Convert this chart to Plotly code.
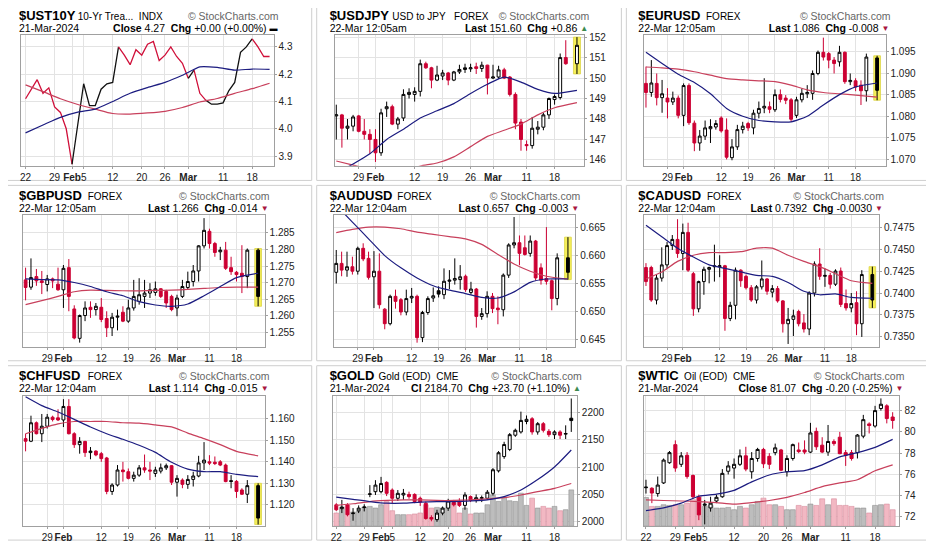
import pandas as pd
import plotly.graph_objects as go

W, H = 934, 543
PAGE = 8          # the page body margin; layout below is written in screen pixels
FONT = "Liberation Sans, Arial, sans-serif"
CANDLE_RED = "#cc0033"
LINE_RED = "#d0103a"
MA_BLUE = "#1c1c80"
MA_RED = "#c8405c"
GRID = "#e3e3e3"
FRAME = "#a0a0a0"

# trading calendars: forex prints every weekday, the US feeds skip Presidents' Day
fx_days = pd.bdate_range("2024-01-23", "2024-03-22")
fx_dates = fx_days.drop(pd.Timestamp("2024-03-21"))   # no bar printed for 21-Mar
us_days = pd.bdate_range("2024-01-22", "2024-03-21").drop(pd.Timestamp("2024-02-19"))
us_dates = us_days

fx_tick_dates = ["2024-01-29", "2024-02-01", "2024-02-12", "2024-02-19", "2024-02-26",
                 "2024-03-01", "2024-03-11", "2024-03-18"]
fx_tick_text = ["29", "<b>Feb</b>", "12", "19", "26", "<b>Mar</b>", "11", "18"]
us_tick_dates = ["2024-01-22", "2024-01-29", "2024-02-01", "2024-02-05", "2024-02-12",
                 "2024-02-20", "2024-02-26", "2024-03-01", "2024-03-11", "2024-03-18"]
us_tick_text = ["22", "29", "<b>Feb</b>", "5", "12", "20", "26", "<b>Mar</b>", "11", "18"]

# ---- $UST10Y (line chart) ----
ust10y_close = [4.11, 4.145, 4.18, 4.13, 4.15, 4.08, 4.06, 4.0, 3.87, 4.02,
                4.165, 4.085, 4.085, 4.145, 4.165, 4.17, 4.30, 4.27, 4.235, 4.29,
                4.27, 4.31, 4.32, 4.25, 4.27, 4.30, 4.265, 4.24, 4.185, 4.215,
                4.13, 4.105, 4.09, 4.09, 4.095, 4.14, 4.17, 4.28, 4.30, 4.33,
                4.30, 4.265, 4.265]
ust10y_ma20 = [3.985, 4.014, 4.042, 4.061, 4.072, 4.10, 4.13, 4.151, 4.17, 4.196, 4.227, 4.225, 4.215, 4.219, 4.218]
ust10y_ma50 = [4.161, 4.136, 4.11, 4.089, 4.072, 4.056, 4.054, 4.058, 4.064, 4.078, 4.098, 4.111, 4.13, 4.147, 4.167]
ust10y_ticks = [3.9, 4.0, 4.1, 4.2, 4.3]
# segment colours of the price line (r = red, k = black)
ust10y_seg = "rrrrrrrr" + "kkkkkkkk" + "rrrrrrrrrrrr" + "k" + "rr" + "kkkkkkkk" + "rrr"

# ---- $USDJPY ----
usdjpy_open = [148.15, 148.2, 147.55, 147.65, 148.15, 147.4, 147.25, 147.0, 146.35, 148.5,
               148.6, 147.75, 148.05, 149.2, 149.2, 149.35, 150.7, 150.5, 149.9, 150.1,
               150.25, 149.9, 150.3, 150.42, 150.45, 150.55, 150.47, 150.63, 150.0, 150.05,
               150.4, 150.05, 149.2, 147.85, 146.75, 146.7, 147.5, 147.6, 148.2, 148.95,
               149.05, 151.0, 150.7]
usdjpy_high = [148.7, 148.25, 148.0, 148.2, 148.2, 148.0, 147.5, 147.5, 148.5, 148.85,
               148.7, 148.1, 149.45, 149.5, 149.55, 150.9, 150.8, 150.55, 150.6, 150.4,
               150.3, 150.35, 150.65, 150.7, 150.7, 150.75, 150.8, 150.65, 150.65, 150.6,
               150.5, 150.1, 149.3, 148.0, 146.95, 148.1, 147.9, 148.3, 149.05, 149.2,
               151.2, 151.85, 152.0]
usdjpy_low = [147.0, 146.6, 147.0, 147.4, 147.35, 147.0, 146.3, 145.9, 146.2, 148.1,
              147.7, 147.5, 147.9, 149.0, 148.85, 149.1, 150.45, 149.5, 149.85, 149.9,
              149.65, 149.85, 150.2, 150.25, 150.3, 150.2, 150.3, 149.2, 149.95, 149.95,
              149.95, 149.1, 147.5, 146.45, 146.45, 146.55, 147.25, 147.45, 148.0, 148.7,
              148.95, 150.65, 150.2]
usdjpy_close = [148.2, 147.55, 147.65, 148.1, 147.4, 147.25, 147.0, 146.35, 148.3, 148.6,
                147.75, 148.0, 149.2, 149.3, 149.35, 150.7, 150.5, 149.9, 150.15, 150.25,
                149.9, 150.3, 150.42, 150.5, 150.5, 150.47, 150.63, 150.0, 150.05, 150.4,
                150.0, 149.2, 147.8, 147.0, 146.7, 147.55, 147.6, 148.2, 149.0, 149.1,
                151.0, 150.7, 151.6]
usdjpy_ma20 = [145.35, 145.8, 146.3, 147.0, 147.5, 148.05, 148.4, 148.75, 149.25, 149.7, 150.05, 149.8, 149.45, 149.25, 149.4]
usdjpy_ma50 = [145.95, 145.75, 145.55, 145.4, 145.45, 145.7, 145.85, 146.15, 146.65, 147.15, 147.45, 147.75, 148.2, 148.55, 148.8]
usdjpy_ticks = [146, 147, 148, 149, 150, 151, 152]

# ---- $EURUSD ----
eurusd_open = [1.0876, 1.0855, 1.0876, 1.0843, 1.0842, 1.0833, 1.0842, 1.0802, 1.0871, 1.0784,
               1.0738, 1.0754, 1.0771, 1.0775, 1.0796, 1.0768, 1.0704, 1.0729, 1.0769, 1.0783,
               1.0773, 1.0807, 1.0819, 1.0822, 1.0815, 1.085, 1.0842, 1.0838, 1.0802, 1.0838,
               1.0852, 1.0853, 1.0899, 1.0948, 1.0945, 1.093, 1.0926, 1.0948, 1.088, 1.0882,
               1.0872, 1.0859, 1.0935]
eurusd_high = [1.0915, 1.093, 1.0899, 1.0884, 1.0865, 1.0857, 1.0848, 1.0876, 1.0876, 1.079,
               1.0768, 1.079, 1.0793, 1.0791, 1.08, 1.0795, 1.0747, 1.078, 1.0787, 1.0787,
               1.0815, 1.0834, 1.0888, 1.0834, 1.0862, 1.0862, 1.0849, 1.0842, 1.0845, 1.0864,
               1.0872, 1.0906, 1.0952, 1.0982, 1.0949, 1.0937, 1.0963, 1.095, 1.0899, 1.0888,
               1.0883, 1.0945, 1.094]
eurusd_low = [1.082, 1.0845, 1.0825, 1.0808, 1.0795, 1.0826, 1.0795, 1.0777, 1.078, 1.0719,
              1.072, 1.0745, 1.0738, 1.0769, 1.0762, 1.07, 1.0698, 1.0722, 1.076, 1.0766,
              1.0758, 1.0795, 1.0807, 1.0807, 1.081, 1.0832, 1.0828, 1.0787, 1.0796, 1.0832,
              1.0842, 1.0838, 1.0895, 1.0929, 1.0911, 1.0899, 1.0915, 1.0875, 1.0872, 1.0858,
              1.0826, 1.0834, 1.0837]
eurusd_close = [1.0855, 1.0877, 1.0843, 1.0852, 1.0833, 1.0842, 1.0802, 1.0871, 1.0785, 1.0738,
                1.0754, 1.0773, 1.0776, 1.0783, 1.0766, 1.0705, 1.0729, 1.0769, 1.0777, 1.0773,
                1.0807, 1.0818, 1.0823, 1.0816, 1.085, 1.0839, 1.0837, 1.0793, 1.0838, 1.0853,
                1.0855, 1.0899, 1.0948, 1.0937, 1.093, 1.0922, 1.0948, 1.088, 1.0883, 1.0868,
                1.0859, 1.0937, 1.086]
eurusd_ma20 = [1.0948, 1.0922, 1.0897, 1.0878, 1.0852, 1.0818, 1.0800, 1.0790, 1.0787, 1.0787, 1.0800, 1.0826, 1.085, 1.0868, 1.0877]
eurusd_ma50 = [1.0914, 1.0912, 1.0909, 1.0903, 1.0895, 1.0887, 1.0884, 1.0882, 1.088, 1.0872, 1.0861, 1.0855, 1.0852, 1.0849, 1.0844]
eurusd_ticks = [1.070, 1.075, 1.080, 1.085, 1.090, 1.095]

# ---- $GBPUSD ----
gbpusd_open = [1.2708, 1.2686, 1.2718, 1.2705, 1.2694, 1.2711, 1.2695, 1.2678, 1.2745, 1.262,
               1.2531, 1.26, 1.2625, 1.2618, 1.2625, 1.2591, 1.2563, 1.2595, 1.261, 1.2583,
               1.2623, 1.2643, 1.2658, 1.2668, 1.267, 1.2681, 1.2673, 1.2658, 1.2623, 1.2658,
               1.2685, 1.2703, 1.2735, 1.2811, 1.2855, 1.2818, 1.2793, 1.2798, 1.2745, 1.2731,
               1.2728, 1.2718, 1.2798]
gbpusd_high = [1.2745, 1.2773, 1.2741, 1.2735, 1.2723, 1.2715, 1.2745, 1.2753, 1.2771, 1.2631,
               1.2603, 1.2643, 1.2643, 1.2638, 1.2653, 1.2613, 1.2608, 1.2618, 1.2628, 1.2648,
               1.2708, 1.2713, 1.2708, 1.2698, 1.2703, 1.2683, 1.2678, 1.2663, 1.2663, 1.2708,
               1.2733, 1.2753, 1.2813, 1.2895, 1.2863, 1.2823, 1.2808, 1.2823, 1.2778, 1.2735,
               1.2813, 1.2803, 1.2803]
gbpusd_low = [1.2646, 1.2678, 1.269, 1.2665, 1.2673, 1.2683, 1.2675, 1.2623, 1.2613, 1.2528,
              1.2518, 1.2583, 1.2593, 1.26, 1.258, 1.2535, 1.2538, 1.2555, 1.258, 1.2578,
              1.2615, 1.2633, 1.2623, 1.2653, 1.266, 1.2653, 1.2623, 1.2613, 1.2598, 1.2653,
              1.2678, 1.2688, 1.2703, 1.2803, 1.2803, 1.2778, 1.2768, 1.2738, 1.2723, 1.2703,
              1.2668, 1.2683, 1.2628]
gbpusd_close = [1.2685, 1.2715, 1.2705, 1.27, 1.2711, 1.2705, 1.2678, 1.2743, 1.2658, 1.2532,
                1.26, 1.2623, 1.2618, 1.2628, 1.2588, 1.2563, 1.2595, 1.2598, 1.2583, 1.2623,
                1.2658, 1.2663, 1.2668, 1.2678, 1.2681, 1.2658, 1.2638, 1.2618, 1.2653, 1.2688,
                1.2703, 1.2735, 1.2811, 1.2858, 1.2818, 1.2791, 1.2798, 1.2743, 1.2733, 1.2724,
                1.2718, 1.2798, 1.2658]
gbpusd_ma20 = [1.2711, 1.2709, 1.2708, 1.27, 1.2688, 1.2672, 1.266, 1.2642, 1.2632, 1.2628, 1.2635, 1.266, 1.2688, 1.2715, 1.2728]
gbpusd_ma50 = [1.2633, 1.2645, 1.2658, 1.2672, 1.2677, 1.2676, 1.2675, 1.2675, 1.2676, 1.2677, 1.2679, 1.2682, 1.2685, 1.2686, 1.2686]
gbpusd_ticks = [1.255, 1.260, 1.265, 1.270, 1.275, 1.280, 1.285]

# ---- $AUDUSD ----
audusd_open = [0.657, 0.6586, 0.6574, 0.658, 0.6572, 0.6613, 0.6595, 0.6562, 0.6572, 0.6504,
               0.6478, 0.6527, 0.6521, 0.6499, 0.6524, 0.6527, 0.6453, 0.6498, 0.6524, 0.6537,
               0.653, 0.6554, 0.6556, 0.6557, 0.6563, 0.6534, 0.654, 0.6491, 0.6496, 0.6527,
               0.6506, 0.6503, 0.6565, 0.6619, 0.6623, 0.6614, 0.6604, 0.6626, 0.6578, 0.6559,
               0.6555, 0.6523, 0.6596]
audusd_high = [0.661, 0.6607, 0.6607, 0.6598, 0.6616, 0.6622, 0.6607, 0.6608, 0.6604, 0.6506,
               0.653, 0.6539, 0.6524, 0.6539, 0.6542, 0.653, 0.6501, 0.6527, 0.6543, 0.6545,
               0.6577, 0.6574, 0.6595, 0.6583, 0.6566, 0.6553, 0.6542, 0.6506, 0.6536, 0.6533,
               0.6527, 0.6568, 0.6622, 0.6669, 0.6636, 0.6636, 0.6636, 0.6628, 0.6586, 0.6651,
               0.6557, 0.6604, 0.6633]
audusd_low = [0.655, 0.6563, 0.6562, 0.6566, 0.6566, 0.659, 0.6557, 0.6506, 0.6505, 0.6468,
              0.6475, 0.6505, 0.6493, 0.6493, 0.6515, 0.6444, 0.6445, 0.6494, 0.6517, 0.6525,
              0.6522, 0.654, 0.6548, 0.6539, 0.6535, 0.653, 0.6471, 0.6485, 0.6489, 0.6497,
              0.6477, 0.6491, 0.656, 0.6613, 0.6583, 0.66, 0.6598, 0.6555, 0.6548, 0.6548,
              0.6502, 0.6511, 0.6557]
audusd_close = [0.6586, 0.6574, 0.658, 0.6572, 0.6613, 0.6594, 0.6561, 0.6572, 0.6512, 0.6478,
                0.6527, 0.6518, 0.6499, 0.6523, 0.6527, 0.6453, 0.6498, 0.6523, 0.6528, 0.6531,
                0.6554, 0.6556, 0.6559, 0.6562, 0.6539, 0.654, 0.6491, 0.6496, 0.6527, 0.6505,
                0.6503, 0.6565, 0.6619, 0.6623, 0.6604, 0.6602, 0.6626, 0.656, 0.6556, 0.6554,
                0.6523, 0.6596, 0.657]
audusd_ma20 = [0.669, 0.666, 0.663, 0.66, 0.6578, 0.656, 0.6546, 0.6538, 0.6532, 0.6525, 0.6524, 0.6535, 0.6552, 0.6558, 0.6558]
audusd_ma50 = [0.6641, 0.6647, 0.6651, 0.6651, 0.6648, 0.6642, 0.6638, 0.6634, 0.663, 0.662, 0.6602, 0.6585, 0.6572, 0.6563, 0.6558]
audusd_ticks = [0.645, 0.650, 0.655, 0.660, 0.665]

# ---- $CADUSD ----
cadusd_open = [0.7429, 0.7429, 0.7392, 0.7417, 0.7432, 0.7454, 0.7461, 0.7445, 0.7469, 0.7422,
               0.7382, 0.7413, 0.7427, 0.7431, 0.743, 0.7431, 0.7371, 0.7386, 0.7426, 0.7419,
               0.7406, 0.7392, 0.7407, 0.7416, 0.7401, 0.7405, 0.7391, 0.7365, 0.737, 0.7379,
               0.7366, 0.7359, 0.74, 0.7433, 0.7419, 0.742, 0.741, 0.7425, 0.7388, 0.7383,
               0.7389, 0.7365, 0.7421]
cadusd_high = [0.7434, 0.7431, 0.7421, 0.7452, 0.7458, 0.7466, 0.7484, 0.7479, 0.748, 0.7424,
               0.7414, 0.743, 0.743, 0.7455, 0.7443, 0.7432, 0.739, 0.7429, 0.7427, 0.7421,
               0.7409, 0.7409, 0.7437, 0.7417, 0.7409, 0.7408, 0.7392, 0.7383, 0.7381, 0.7381,
               0.7376, 0.7402, 0.7436, 0.7451, 0.7428, 0.7423, 0.7427, 0.7429, 0.7404, 0.74,
               0.7402, 0.7426, 0.743]
cadusd_low = [0.7408, 0.739, 0.7387, 0.7413, 0.7428, 0.7449, 0.744, 0.7426, 0.7424, 0.7374,
              0.7378, 0.7398, 0.7411, 0.7413, 0.7418, 0.7357, 0.7368, 0.737, 0.7407, 0.7404,
              0.739, 0.7388, 0.7404, 0.7398, 0.7395, 0.7389, 0.7355, 0.7342, 0.7351, 0.7362,
              0.7355, 0.7352, 0.7396, 0.7415, 0.7407, 0.7405, 0.7408, 0.7384, 0.738, 0.7378,
              0.7352, 0.735, 0.7383]
cadusd_close = [0.7413, 0.7392, 0.7417, 0.7432, 0.7454, 0.7461, 0.7445, 0.7469, 0.7426, 0.7382,
                0.7413, 0.7427, 0.7429, 0.743, 0.7431, 0.7371, 0.7386, 0.7426, 0.7414, 0.7406,
                0.7392, 0.7407, 0.7416, 0.7402, 0.7405, 0.7391, 0.7365, 0.737, 0.7374, 0.7365,
                0.7359, 0.74, 0.7433, 0.7419, 0.742, 0.741, 0.7425, 0.7387, 0.7383, 0.7388,
                0.7365, 0.7421, 0.7392]
cadusd_ma20 = [0.7477, 0.7464, 0.7451, 0.7441, 0.7432, 0.7428, 0.7424, 0.742, 0.7419, 0.7412, 0.7402, 0.7398, 0.7399, 0.7395, 0.7394]
cadusd_ma50 = [0.7416, 0.7424, 0.7436, 0.7443, 0.7446, 0.7446, 0.7447, 0.7451, 0.7451, 0.7443, 0.7436, 0.743, 0.7422, 0.7414, 0.7411]
cadusd_ticks = [0.7350, 0.7375, 0.7400, 0.7425, 0.7450, 0.7475]

# ---- $CHFUSD ----
chfusd_open = [1.1508, 1.1496, 1.1582, 1.1531, 1.1566, 1.1608, 1.1605, 1.1595, 1.1658, 1.1531,
               1.148, 1.1495, 1.1443, 1.145, 1.1438, 1.1418, 1.1262, 1.1292, 1.1362, 1.1354,
               1.1323, 1.1338, 1.1372, 1.1362, 1.1346, 1.1357, 1.1372, 1.1382, 1.1305, 1.1315,
               1.1295, 1.1318, 1.1334, 1.1395, 1.14, 1.1398, 1.14, 1.1385, 1.1312, 1.1309,
               1.1269, 1.1249, 1.1289]
chfusd_high = [1.1531, 1.1615, 1.1588, 1.1623, 1.1623, 1.1615, 1.1645, 1.1692, 1.1692, 1.1538,
               1.1515, 1.1498, 1.1469, 1.1454, 1.1446, 1.1423, 1.13, 1.1385, 1.14, 1.1369,
               1.1354, 1.1385, 1.1434, 1.14, 1.1377, 1.1392, 1.1392, 1.1385, 1.1338, 1.1323,
               1.1338, 1.1354, 1.1428, 1.1492, 1.1431, 1.1425, 1.1408, 1.1392, 1.1338, 1.1315,
               1.1277, 1.1315, 1.13]
chfusd_low = [1.1449, 1.1492, 1.1528, 1.1492, 1.1555, 1.1588, 1.159, 1.1562, 1.1528, 1.1465,
              1.1438, 1.1423, 1.1412, 1.1426, 1.14, 1.1249, 1.1246, 1.1285, 1.1308, 1.1318,
              1.1308, 1.133, 1.1349, 1.1315, 1.133, 1.1346, 1.1362, 1.1292, 1.1238, 1.1277,
              1.1274, 1.1285, 1.1328, 1.1362, 1.1385, 1.1385, 1.138, 1.1305, 1.1277, 1.1232,
              1.1246, 1.1208, 1.1108]
chfusd_close = [1.1496, 1.1582, 1.1531, 1.1566, 1.1608, 1.1597, 1.1595, 1.1658, 1.1531, 1.148,
                1.1495, 1.1443, 1.145, 1.1432, 1.1415, 1.1262, 1.1292, 1.1362, 1.1354, 1.1323,
                1.1338, 1.1372, 1.1362, 1.1357, 1.1362, 1.1372, 1.1382, 1.1305, 1.1323, 1.1295,
                1.1318, 1.1334, 1.1395, 1.1408, 1.1394, 1.1392, 1.1385, 1.1308, 1.1309, 1.1262,
                1.1249, 1.1289, 1.1138]
chfusd_ma20 = [1.1703, 1.1662, 1.1632, 1.1598, 1.1562, 1.1531, 1.1505, 1.1477, 1.1444, 1.1398, 1.1366, 1.1354, 1.1354, 1.1342, 1.1331]
chfusd_ma50 = [1.1531, 1.1556, 1.1577, 1.1588, 1.1588, 1.1588, 1.1582, 1.158, 1.1572, 1.1563, 1.1534, 1.1508, 1.148, 1.1449, 1.1428]
chfusd_ticks = [1.120, 1.130, 1.140, 1.150, 1.160]

# ---- $GOLD ----
gold_open = [2031, 2024, 2031, 2015, 2020, 2026, 2050, 2055, 2055, 2072,
             2058, 2043, 2049, 2050, 2050, 2043, 2034, 2008, 2004, 2016,
             2025, 2037, 2037, 2030, 2046, 2040, 2043, 2043, 2052, 2093,
             2119, 2132, 2158, 2164, 2183, 2188, 2164, 2179, 2165, 2159,
             2164, 2160, 2189]
gold_high = [2034, 2040, 2034, 2025, 2030, 2032, 2067, 2076, 2082, 2074,
             2061, 2058, 2060, 2055, 2052, 2046, 2037, 2012, 2022, 2028,
             2042, 2040, 2043, 2054, 2048, 2050, 2048, 2058, 2098, 2129,
             2146, 2162, 2170, 2201, 2194, 2191, 2182, 2182, 2169, 2167,
             2167, 2176, 2225]
gold_low = [2020, 2016, 2010, 2002, 2016, 2019, 2045, 2049, 2052, 2047,
            2034, 2038, 2040, 2042, 2034, 2029, 2004, 2001, 2000, 2012,
            2020, 2028, 2027, 2022, 2036, 2035, 2036, 2040, 2048, 2090,
            2115, 2129, 2155, 2161, 2178, 2159, 2159, 2163, 2155, 2151,
            2151, 2151, 2164]
gold_close = [2022, 2027, 2013, 2016, 2025, 2027, 2051, 2067, 2070, 2052,
              2043, 2052, 2052, 2046, 2037, 2036, 2006, 2005, 2016, 2025,
              2038, 2031, 2030, 2049, 2039, 2044, 2044, 2054, 2095, 2126,
              2141, 2159, 2167, 2185, 2187, 2164, 2179, 2167, 2159, 2164,
              2158, 2161, 2184.7]
gold_volume = [40, 57, 63, 43, 45, 58, 60, 55, 65, 75,
               47, 35, 35, 35, 37, 40, 65, 55, 57, 55,
               75, 70, 40, 55, 37, 40, 40, 65, 95, 75,
               87, 77, 75, 100, 63, 85, 55, 60, 55, 60,
               47, 50, 110]
gold_ma20 = [2045, 2041, 2037, 2034, 2034, 2036, 2037, 2037, 2038, 2040, 2046, 2058, 2077, 2100, 2131]
gold_ma50 = [2030, 2033, 2037, 2039, 2040, 2040, 2039, 2039, 2040, 2042, 2044, 2049, 2055, 2061, 2070]
gold_ticks = [2000, 2050, 2100, 2150, 2200]

# ---- $WTIC ----
wtic_open = [74.75, 74.7, 74.2, 75.2, 77.1, 78.8, 76.95, 77.8, 75.9, 73.85,
             73.1, 72.85, 73.5, 73.9, 76.3, 76.6, 76.95, 77.75, 76.25, 77.5,
             78.35, 77.7, 78.05, 78.3, 76.25, 77.5, 78.3, 78.3, 78.1, 80.05,
             78.75, 78.1, 79.1, 79.5, 78.05, 78.05, 78.05, 79.6, 80.75, 80.55,
             82.2, 82.45, 81.4]
wtic_high = [75.5, 74.8, 75.8, 77.5, 78.2, 79.2, 78.1, 78.1, 76.0, 74.1,
             73.6, 73.9, 74.1, 76.5, 77.25, 77.5, 78.35, 78.6, 78.1, 78.5,
             78.5, 78.0, 78.9, 78.4, 77.8, 78.9, 79.0, 79.2, 80.85, 80.4,
             79.5, 80.65, 79.3, 80.0, 78.3, 78.3, 79.8, 81.6, 80.9, 82.45,
             83.15, 82.6, 81.85]
wtic_low = [74.2, 73.3, 73.9, 75.1, 77.0, 76.25, 76.7, 75.6, 73.7, 71.7,
            71.3, 72.5, 73.3, 73.8, 76.0, 75.6, 76.8, 76.3, 75.6, 77.2,
            76.6, 76.5, 77.8, 76.3, 75.8, 77.3, 78.0, 77.9, 78.0, 78.3,
            78.0, 77.75, 78.7, 77.9, 76.8, 77.3, 77.5, 79.4, 79.85, 80.4,
            82.0, 80.8, 80.3]
wtic_close = [74.8, 74.25, 75.0, 77.35, 78.05, 76.6, 77.75, 75.8, 73.9, 72.2,
              73.2, 73.3, 73.85, 76.1, 76.8, 76.95, 77.75, 76.5, 77.5, 78.35,
              77.0, 76.95, 78.5, 76.4, 77.5, 78.8, 78.15, 78.1, 79.9, 78.6,
              78.1, 79.1, 78.9, 77.95, 77.8, 77.5, 79.7, 81.15, 80.6, 82.0,
              82.6, 81.25, 81.07]
wtic_volume = [87, 60, 60, 65, 63, 65, 65, 70, 80, 90,
               60, 63, 55, 55, 57, 50, 60, 55, 65, 75,
               85, 65, 65, 60, 50, 50, 63, 60, 67, 63,
               83, 65, 83, 63, 63, 60, 55, 55, 40, 63,
               65, 67, 50]
wtic_ma20 = [72.6, 72.85, 73.3, 73.95, 74.15, 74.5, 75.3, 75.95, 76.25, 76.35, 76.9, 77.65, 78.05, 78.55, 79.3]
wtic_ma50 = [73.6, 73.55, 73.5, 73.45, 73.35, 73.2, 73.35, 73.55, 73.85, 74.3, 74.85, 75.2, 75.5, 76.35, 76.9]
wtic_ticks = [72, 74, 76, 78, 80, 82]

calendars = {
    "fx": (fx_days, fx_dates, fx_tick_dates, fx_tick_text),
    "us": (us_days, us_dates, us_tick_dates, us_tick_text),
}

UP, DOWN, FLAT = ("\u25b2", "#3d8a4f"), ("\u25bc", "#a8163f"), ("\u25ac", "#000000")

panels = [
    dict(k=1, col=0, row=0, sym="$UST10Y", desc="10-Yr Trea...\u00a0 INDX", desc_x=77, stamp="21-Mar-2024",
         quote="<b>Close</b> 4.27\u00a0 <b>Chg</b> +0.00 (+0.00%)", mark=FLAT,
         box=(17.3, 270.7, 31.7, 163.3), cal="us", xr=[-0.74, 42.69], yr=[3.864, 4.342], ticks=ust10y_ticks, fmt=".1f",
         line=ust10y_close, ma=(ust10y_ma20, ust10y_ma50)),
    dict(k=2, col=1, row=0, sym="$USDJPY", desc="USD to JPY\u00a0\u00a0 FOREX", desc_x=393, stamp="22-Mar 12:05am",
         quote="<b>Last</b> 151.60\u00a0 <b>Chg</b> +0.86", mark=UP,
         box=(332, 582.7, 31.7, 163.3), cal="fx", xr=[-0.3, 44.3], yr=[145.71, 152.08], ticks=usdjpy_ticks, fmt="d",
         ohlc=(usdjpy_open, usdjpy_high, usdjpy_low, usdjpy_close), ma=(usdjpy_ma20, usdjpy_ma50), live=True),
    dict(k=3, col=2, row=0, sym="$EURUSD", desc="FOREX", desc_x=708, stamp="22-Mar 12:05am",
         quote="<b>Last</b> 1.086\u00a0 <b>Chg</b> -0.008", mark=DOWN,
         box=(642.7, 885.3, 31.7, 163.3), cal="fx", xr=[-0.37, 44.57], yr=[1.0685, 1.0987], ticks=eurusd_ticks, fmt=".3f",
         ohlc=(eurusd_open, eurusd_high, eurusd_low, eurusd_close), ma=(eurusd_ma20, eurusd_ma50), live=True),
    dict(k=4, col=0, row=1, sym="$GBPUSD", desc="FOREX", desc_x=87, stamp="22-Mar 12:05am",
         quote="<b>Last</b> 1.266\u00a0 <b>Chg</b> -0.014", mark=DOWN,
         box=(19.3, 261.7, 212.7, 345.7), cal="fx", xr=[-0.43, 44.2], yr=[1.2506, 1.2905], ticks=gbpusd_ticks, fmt=".3f",
         ohlc=(gbpusd_open, gbpusd_high, gbpusd_low, gbpusd_close), ma=(gbpusd_ma20, gbpusd_ma50), live=True),
    dict(k=5, col=1, row=1, sym="$AUDUSD", desc="FOREX", desc_x=398, stamp="22-Mar 12:04am",
         quote="<b>Last</b> 0.657\u00a0 <b>Chg</b> -0.003", mark=DOWN,
         box=(331.3, 573.7, 212.7, 345.7), cal="fx", xr=[-0.43, 44.36], yr=[0.6437, 0.6673], ticks=audusd_ticks, fmt=".3f",
         ohlc=(audusd_open, audusd_high, audusd_low, audusd_close), ma=(audusd_ma20, audusd_ma50), live=True),
    dict(k=6, col=2, row=1, sym="$CADUSD", desc="FOREX", desc_x=709, stamp="22-Mar 12:04am",
         quote="<b>Last</b> 0.7392\u00a0 <b>Chg</b> -0.0030", mark=DOWN,
         box=(642.7, 878.7, 212.7, 345.7), cal="fx", xr=[-0.38, 44.26], yr=[0.7339, 0.7489], ticks=cadusd_ticks, fmt=".4f",
         ohlc=(cadusd_open, cadusd_high, cadusd_low, cadusd_close), ma=(cadusd_ma20, cadusd_ma50), live=True),
    dict(k=7, col=0, row=2, sym="$CHFUSD", desc="FOREX", desc_x=87, stamp="22-Mar 12:04am",
         quote="<b>Last</b> 1.114\u00a0 <b>Chg</b> -0.015", mark=DOWN,
         box=(19.3, 261.7, 395.3, 527), cal="fx", xr=[-0.43, 44.2], yr=[1.11, 1.1708], ticks=chfusd_ticks, fmt=".3f",
         ohlc=(chfusd_open, chfusd_high, chfusd_low, chfusd_close), ma=(chfusd_ma20, chfusd_ma50), live=True),
    dict(k=8, col=1, row=2, sym="$GOLD", desc="Gold (EOD)\u00a0 CME", desc_x=379, stamp="21-Mar-2024",
         quote="<b>Cl</b> 2184.70\u00a0 <b>Chg</b> +23.70 (+1.10%)", mark=UP,
         box=(330.3, 575.3, 395.3, 527), cal="us", xr=[-0.6, 43.0], yr=[1992, 2230], ticks=gold_ticks, fmt="d",
         ohlc=(gold_open, gold_high, gold_low, gold_close), ma=(gold_ma20, gold_ma50), vol=gold_volume, price_axis=10),
    dict(k=9, col=2, row=2, sym="$WTIC", desc="Oil (EOD)\u00a0 CME", desc_x=686, stamp="21-Mar-2024",
         quote="<b>Close</b> 81.07\u00a0 <b>Chg</b> -0.20 (-0.25%)", mark=DOWN,
         box=(642.7, 899.3, 395.3, 527), cal="us", xr=[-0.34, 43.16], yr=[71.13, 83.4], ticks=wtic_ticks, fmt="d",
         ohlc=(wtic_open, wtic_high, wtic_low, wtic_close), ma=(wtic_ma20, wtic_ma50), vol=wtic_volume, price_axis=11),
]

col_x0 = [0, 312, 622]
row_y0 = [0, 181.5, 363.5]
frame_cols = [(1, 309), (314, 620), (625, 932)]
frame_rows = [(1, 178), (183, 360), (365, 541)]


def fx_(x):
    return (x - PAGE) / W


def fy_(y):
    return 1 - (y - PAGE) / H


def ax_id(n):
    return "" if n == 1 else str(n)


def label(x, y, text, size, color="#000", side="right"):
    # header texts live on a full-page helper axis measured in screen pixels
    return go.Scatter(x=[x - 3 if side == "right" else x + 3], y=[y], mode="text", text=[text],
                      textposition="middle " + side, cliponaxis=False, hoverinfo="skip",
                      textfont=dict(family=FONT, size=size, color=color), xaxis="x20", yaxis="y20")


def candles(xs, o, h, l, c, idx, color, xa, ya):
    return go.Candlestick(
        x=[xs[i] for i in idx], open=[o[i] for i in idx], high=[h[i] for i in idx],
        low=[l[i] for i in idx], close=[c[i] for i in idx],
        increasing=dict(line=dict(color=color, width=1), fillcolor="white"),
        decreasing=dict(line=dict(color=color, width=1), fillcolor=color),
        whiskerwidth=0, xaxis=xa, yaxis=ya, hoverinfo="skip",
    )


fig = go.Figure()
shapes = []
axes = {}
texts = []

for p in panels:
    k = p["k"]
    x0, x1, y0, y1 = p["box"]
    days, dates, tick_dates, tick_text = calendars[p["cal"]]
    xs = days.get_indexer(dates).tolist()
    tickvals = days.get_indexer(pd.to_datetime(tick_dates)).tolist()
    xa = "x" + ax_id(k)
    base_y = "y" + ax_id(k)
    price_y = "y" + str(p["price_axis"]) if "price_axis" in p else base_y

    # volume bars sit on the base axis so the price layer draws above them
    if "vol" in p:
        o, h, l, c = p["ohlc"]
        up = [c[0] >= o[0]] + [c[i] >= c[i - 1] for i in range(1, len(c))]
        fig.add_trace(go.Bar(
            x=xs, y=p["vol"], width=0.85, xaxis=xa, yaxis=base_y, hoverinfo="skip",
            marker=dict(color=["#bdbdbd" if u else "#f2b8c3" for u in up],
                        line=dict(color=["#8f8f8f" if u else "#d98c9c" for u in up], width=0.6)),
        ))

    if "line" in p:
        y = p["line"]
        start = 0
        for i in range(1, len(ust10y_seg) + 1):
            if i == len(ust10y_seg) or ust10y_seg[i] != ust10y_seg[start]:
                fig.add_trace(go.Scatter(
                    x=xs[start:i + 1], y=y[start:i + 1], mode="lines", xaxis=xa, yaxis=price_y,
                    line=dict(color="#111111" if ust10y_seg[start] == "k" else LINE_RED, width=1.3),
                    hoverinfo="skip"))
                start = i
    else:
        o, h, l, c = p["ohlc"]
        n = len(c)
        up = [c[0] >= o[0]] + [c[i] >= c[i - 1] for i in range(1, n)]
        if p.get("live"):
            # the live bar gets a yellow highlight and is always drawn in black
            up[-1] = True
            fig.add_trace(go.Bar(
                x=[xs[-1]], base=[l[-1]], y=[h[-1] - l[-1]], width=1.25, xaxis=xa, yaxis=price_y,
                marker=dict(color="#f6f05a", line=dict(color="#dcd445", width=0.8)), hoverinfo="skip"))
        black = [i for i in range(n) if up[i]]
        red = [i for i in range(n) if not up[i]]
        fig.add_trace(candles(xs, o, h, l, c, red, CANDLE_RED, xa, price_y))
        fig.add_trace(candles(xs, o, h, l, c, black, "#000000", xa, price_y))

    ma20, ma50 = p["ma"]
    for vals, col in ((ma50, MA_RED), (ma20, MA_BLUE)):
        fig.add_trace(go.Scatter(
            x=xs[::3], y=vals, mode="lines", xaxis=xa, yaxis=price_y, hoverinfo="skip",
            line=dict(color=col, width=1.2, shape="spline", smoothing=0.6)))

    xdom = [fx_(x0), fx_(x1)]
    ydom = [fy_(y1), fy_(y0)]
    axes["xaxis" + ax_id(k)] = dict(
        domain=xdom, range=p["xr"], anchor=base_y, tickmode="array", tickvals=tickvals, ticktext=tick_text,
        tickangle=0, showgrid=True, gridcolor=GRID, showline=True, mirror=True, linecolor=FRAME, linewidth=1,
        ticks="outside", ticklen=2, tickcolor=FRAME, zeroline=False, fixedrange=True,
        tickfont=dict(family=FONT, size=10, color="#222"), rangeslider=dict(visible=False))
    price_axis = dict(
        range=p["yr"], side="right", tickmode="array", tickvals=p["ticks"], tickformat=p["fmt"],
        showgrid=True, gridcolor=GRID, showline=True, mirror=True, linecolor=FRAME, linewidth=1,
        ticks="outside", ticklen=2, tickcolor=FRAME, zeroline=False, fixedrange=True,
        tickfont=dict(family=FONT, size=10, color="#222"))
    if "price_axis" in p:
        axes["yaxis" + ax_id(k)] = dict(domain=ydom, range=[0, 395], anchor=xa, visible=False, fixedrange=True)
        axes["yaxis" + str(p["price_axis"])] = dict(price_axis, overlaying=base_y, anchor=xa)
    else:
        axes["yaxis" + ax_id(k)] = dict(price_axis, domain=ydom, anchor=xa)

    # header texts
    cx, ry = col_x0[p["col"]], row_y0[p["row"]]
    texts.append(label(cx + 18, ry + 13, f"<b>{p['sym']}</b>", 13))
    texts.append(label(p["desc_x"], ry + 13.5, p["desc"], 10))
    texts.append(label(x1 + 2, ry + 13.5, "\u00a9 StockCharts.com", 10.5, "#666", "left"))
    texts.append(label(cx + 18, ry + 25.5, p["stamp"], 10.5))
    texts.append(label(x1 - 10, ry + 25.5, p["quote"], 10.5, "#000", "left"))
    texts.append(label(x1 + 1, ry + 25.5, p["mark"][0], 8, p["mark"][1], "left"))

    fx0, fx1 = frame_cols[p["col"]]
    fy0, fy1 = frame_rows[p["row"]]
    shapes.append(dict(type="rect", xref="paper", yref="paper", x0=fx_(fx0), x1=fx_(fx1),
                       y0=fy_(fy1), y1=fy_(fy0), line=dict(color="#cfcfcf", width=1), layer="below"))

for t in texts:
    fig.add_trace(t)

axes["xaxis20"] = dict(domain=[0, 1], range=[PAGE, PAGE + W], anchor="y20", visible=False, fixedrange=True)
axes["yaxis20"] = dict(domain=[0, 1], range=[PAGE + H, PAGE], anchor="x20", visible=False, fixedrange=True)

fig.update_layout(
    width=W, height=H, margin=dict(l=0, r=0, t=0, b=0),
    paper_bgcolor="white", plot_bgcolor="rgba(0,0,0,0)", showlegend=False, hovermode=False,
    font=dict(family=FONT, size=10, color="#000"),
    shapes=shapes, boxgap=0.25,
    **axes,
)

fig.write_html("out.html")
